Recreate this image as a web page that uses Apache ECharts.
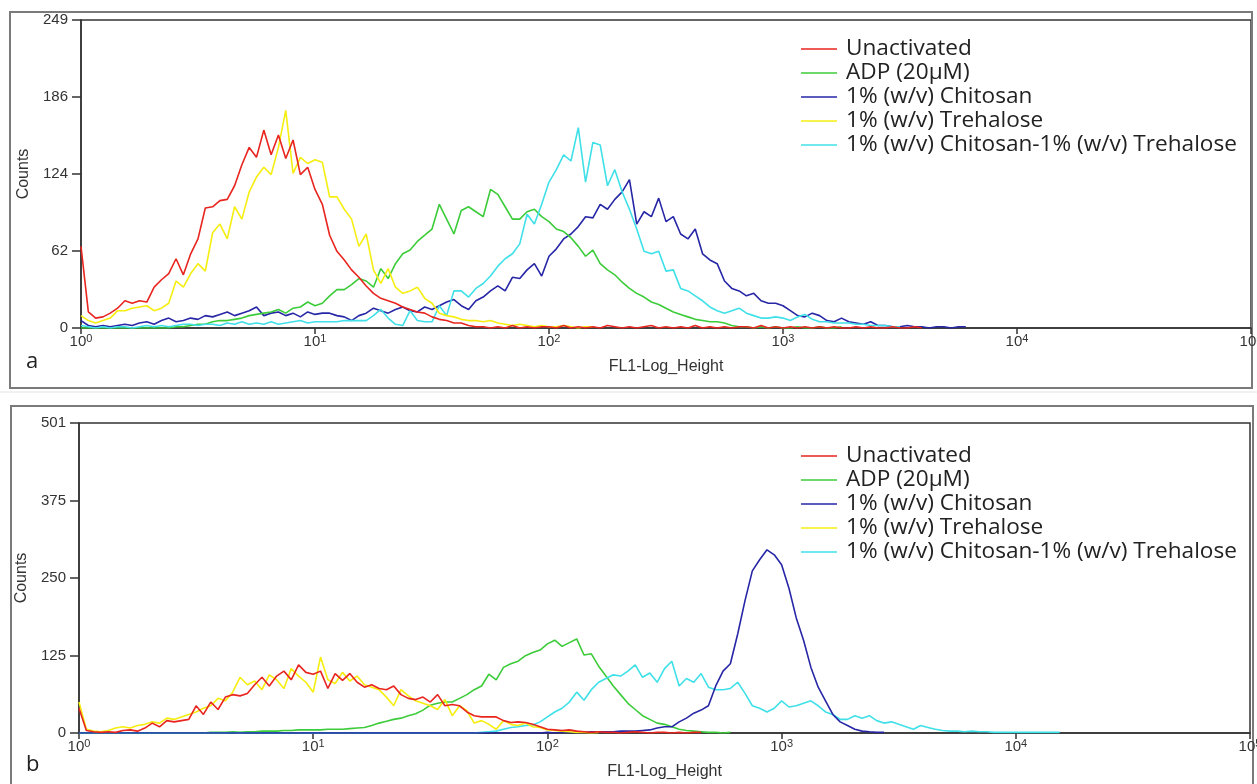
<!DOCTYPE html>
<html><head><meta charset="utf-8">
<script src="https://cdn.jsdelivr.net/npm/echarts@6/dist/echarts.min.js"></script>
<style>html,body{margin:0;padding:0;background:#fff}#c{width:1257px;height:784px}</style>
</head><body><div id="c"></div>
<script>
// channel (bin) positions on the FL1 log scale: 32 bins per decade
const CHANNEL_MANTISSA = [1.000,1.075,1.155,1.241,1.334,1.433,1.540,1.655,1.778,1.911,2.054,2.207,2.371,2.548,2.738,2.943,3.162,3.398,3.652,3.924,4.217,4.532,4.870,5.233,5.623,6.043,6.494,6.978,7.499,8.058,8.660,9.306];
const DECADES = [1,10,100,1000,10000];
const SERIES_NAMES = ['Unactivated','ADP (20\u03BCM)','1% (w/v) Chitosan','1% (w/v) Trehalose','1% (w/v) Chitosan-1% (w/v) Trehalose'];
const X_TICK_EXP = ['0','1','2','3','4','5'];
const Y_TICKS_A = ['0','62','124','186','249'];
const Y_TICKS_B = ['0','125','250','375','501'];

// Panel a counts per channel
const A_RED = [66,13,8,9,12,16,22,20,22,21,33,39,44,56,43,60,72,97,98,103,104,115,132,146,138,160,140,156,137,152,124,130,112,100,75,62,55,47,41,34,28,24,22,20,17,15,13,12,9,7,6,4,4,2,1,1,0,1,0,2,0,1,0,1,1,0,2,0,1,0,1,0,2,1,0,1,0,1,2,0,1,0,1,0,2,0,1,0,1,0,1,1,0,2,0,1,0,1,0,1,0,1,0,1,0,0,1,0,1,0,0,1,0,0,1,0];
const A_GRN = [0,0,0,0,0,0,0,0,0,0,0,0,0,1,1,2,3,3,5,6,6,7,8,10,11,12,13,15,12,16,17,21,18,20,26,31,31,35,40,38,33,48,40,52,60,63,70,75,80,100,88,76,95,98,94,90,112,108,98,88,88,94,96,90,86,80,78,73,66,58,63,52,47,43,37,32,28,25,21,19,16,13,11,9,7,6,5,5,4,2,1,1,0,1,0,1,0,0,1,0,0,1,0,0,1];
const A_BLU = [6,2,1,2,1,2,3,2,4,5,3,6,8,5,6,8,7,10,9,11,13,10,12,14,17,10,12,13,10,12,9,13,11,12,12,10,9,6,10,12,16,14,12,15,17,14,13,17,15,18,21,23,18,15,22,25,30,34,30,41,40,47,52,42,58,64,72,76,82,90,89,100,96,104,110,120,84,94,90,105,86,90,76,72,80,60,55,52,38,32,30,26,28,22,20,20,18,14,10,9,12,10,6,5,8,5,4,3,5,2,2,1,1,2,1,1,0,1,1,0,1,1];
const A_YEL = [10,6,4,6,8,14,14,16,17,18,14,16,20,38,33,44,52,46,77,84,72,98,88,110,122,130,124,146,176,125,138,133,136,134,106,106,96,88,66,76,47,36,48,33,28,30,33,24,20,12,10,9,7,6,6,5,6,4,3,2,3,2,1,2,1,1,2,1,0,1,1];
const A_CYN = [2,1,0,1,0,1,1,0,1,2,1,2,1,2,3,3,2,3,3,2,4,3,5,3,4,3,5,3,4,5,6,4,5,5,5,5,6,6,6,6,10,15,8,3,2,14,6,5,5,18,10,30,30,25,32,36,42,50,56,60,68,92,84,100,118,128,140,135,162,118,150,148,115,128,110,96,80,62,60,62,46,47,32,30,26,22,17,14,12,14,16,12,10,8,8,9,8,6,9,11,7,5,5,4,4,4,3,3,2,2,2,1,1];

// Panel b counts per channel
const B_RED = [40,4,2,1,2,1,4,5,3,8,16,10,20,18,20,22,44,30,50,38,58,62,60,64,78,90,76,92,100,86,110,98,95,100,72,96,85,96,82,74,78,72,70,76,62,56,54,58,50,62,44,46,44,34,28,26,26,26,20,17,18,17,14,10,6,5,4,5,3,2,1,2,1,1,0,1,2,1,0,1,1,0,1,0,1,1];
const B_GRN = [0,0,0,0,0,0,0,0,0,0,0,0,0,0,0,0,0,0,1,1,1,2,1,2,2,3,3,3,4,4,5,5,5,5,6,6,6,7,8,9,12,16,19,22,24,28,31,37,45,48,50,50,56,62,70,76,95,86,106,112,116,125,130,134,144,150,140,146,152,126,128,108,92,76,62,48,38,28,22,16,14,10,6,4,3,2,1,1,0,1];
const B_BLU = [0,0,0,0,0,0,0,0,0,0,0,0,0,0,0,0,0,0,0,0,0,0,0,0,0,0,0,0,0,0,0,0,0,0,0,0,0,0,0,0,0,0,0,0,0,0,0,0,0,0,0,0,0,0,0,0,0,0,0,0,0,0,0,0,1,0,1,1,1,1,2,2,2,2,3,3,3,4,5,8,10,10,18,24,32,37,44,76,100,112,160,214,262,280,296,288,272,234,186,150,106,74,52,30,18,12,6,3,2,1,1];
const B_YEL = [50,6,3,2,4,8,10,8,12,14,18,16,24,22,26,30,34,40,44,56,52,66,90,78,84,70,94,86,72,104,92,82,66,123,86,80,98,84,92,78,74,70,58,44,70,60,52,48,44,38,54,28,44,36,16,20,14,6,20,14,12,16,10,9,5,4,3,2,1,1,0,1];
const B_CYN = [0,0,0,0,0,0,0,0,0,0,0,0,0,0,0,0,0,0,0,0,0,0,0,0,0,0,0,0,0,0,0,0,0,0,0,0,0,0,0,0,0,0,0,0,0,0,0,0,0,0,0,0,0,0,0,1,2,3,6,9,10,12,13,18,26,34,40,50,66,53,70,82,88,94,92,100,110,90,97,82,104,116,76,88,82,96,74,70,70,72,82,64,44,40,34,40,52,42,44,48,52,44,34,30,22,22,28,24,28,20,16,18,14,10,6,12,9,6,4,3,3,2,3,2,2,1,1,1,1,1,1,1,1,1,1];

const COLORS = {red:'#e8251f', grn:'#3ccc3a', blu:'#2626a6', yel:'#f5ee10', cyn:'#3fe0e8'};

const CH = [];
DECADES.forEach(d => CHANNEL_MANTISSA.forEach(m => CH.push(+(m*d).toPrecision(4))));
const toData = arr => arr.map((y, i) => [CH[i], y]);

function mkSeries(name, arr, color, idx) {
  return {name, type:'line', xAxisIndex:idx, yAxisIndex:idx, data:toData(arr), showSymbol:false, symbol:'none',
    lineStyle:{color, width:1.6}, itemStyle:{color}, animation:false};
}

const FONT = 'Liberation Sans, Arial, sans-serif';
function mkX(idx){
  return {type:'log', logBase:10, min:1, max:100000, gridIndex:idx,
    name:'FL1-Log_Height', nameLocation:'middle', nameGap:31,
    nameTextStyle:{fontFamily:FONT, fontSize:16, color:'#333'},
    axisLine:{lineStyle:{color:'#333', width:1.5}},
    axisTick:{show:true, length:6, lineStyle:{color:'#333', width:1.5}},
    minorTick:{show:false}, splitLine:{show:false},
    axisLabel:{margin:5, color:'#333', fontFamily:FONT, fontSize:15,
      formatter:(v,i)=>'10{s|'+X_TICK_EXP[i]+'}',
      rich:{s:{fontSize:11, verticalAlign:'top', padding:[0,0,7,0], fontFamily:FONT, color:'#333'}}}
  };
}
function mkY(idx, max, ticks){
  return {type:'value', min:0, max, interval:max/4, gridIndex:idx,
    name:'Counts', nameLocation:'middle', nameGap:41,
    nameTextStyle:{fontFamily:FONT, fontSize:16, color:'#333'},
    axisLine:{show:true, lineStyle:{color:'#333', width:1.5}},
    axisTick:{show:true, length:9, lineStyle:{color:'#333', width:1.5}},
    splitLine:{show:false},
    axisLabel:{margin:13, color:'#333', fontFamily:FONT, fontSize:15, formatter:(v,i)=>ticks[i]}
  };
}
const legendBase = {orient:'vertical', left:796, itemWidth:36, itemHeight:1.5, icon:'rect', itemGap:0,
  textStyle:{fontFamily:'Open Sans, Noto Sans, sans-serif', fontSize:22.6, lineHeight:24, color:'#222', padding:[0,0,0,4]},
  data:SERIES_NAMES, selectedMode:false};

const chart = echarts.init(document.getElementById('c'), null, {renderer:'canvas'});
chart.setOption({
  backgroundColor:'#fff',
  animation:false,
  grid:[
    {left:81, top:20, width:1170, height:308, show:true, borderColor:'#333', borderWidth:1.5, backgroundColor:'transparent', outerBoundsMode:'none', containLabel:false},
    {left:79, top:423, width:1171, height:310, show:true, borderColor:'#333', borderWidth:1.5, backgroundColor:'transparent', outerBoundsMode:'none', containLabel:false}
  ],
  xAxis:[mkX(0), mkX(1)],
  yAxis:[mkY(0,249,Y_TICKS_A), mkY(1,501,Y_TICKS_B)],
  legend:[Object.assign({top:32}, legendBase), Object.assign({top:439}, legendBase)],
  graphic:[
    {type:'rect', shape:{x:10, y:12, width:1242, height:376}, style:{fill:'none', stroke:'#7a7a7a', lineWidth:2}, silent:true},
    {type:'rect', shape:{x:11, y:406, width:1242, height:400}, style:{fill:'none', stroke:'#7a7a7a', lineWidth:2}, silent:true},
    {type:'line', shape:{x1:0, y1:392, x2:1257, y2:392}, style:{stroke:'#e2e2e2', lineWidth:1}, silent:true},
    {type:'text', left:26, top:351, style:{text:'a', fontFamily:'Open Sans, sans-serif', fontSize:22, fill:'#222'}},
    {type:'text', left:26, top:754, style:{text:'b', fontFamily:'Open Sans, sans-serif', fontSize:22, fill:'#222'}}
  ],
  series:[
    mkSeries(SERIES_NAMES[2], A_BLU, COLORS.blu, 0),
    mkSeries(SERIES_NAMES[1], A_GRN, COLORS.grn, 0),
    mkSeries(SERIES_NAMES[4], A_CYN, COLORS.cyn, 0),
    mkSeries(SERIES_NAMES[3], A_YEL, COLORS.yel, 0),
    mkSeries(SERIES_NAMES[0], A_RED, COLORS.red, 0),
    mkSeries(SERIES_NAMES[1], B_GRN, COLORS.grn, 1),
    mkSeries(SERIES_NAMES[4], B_CYN, COLORS.cyn, 1),
    mkSeries(SERIES_NAMES[2], B_BLU, COLORS.blu, 1),
    mkSeries(SERIES_NAMES[3], B_YEL, COLORS.yel, 1),
    mkSeries(SERIES_NAMES[0], B_RED, COLORS.red, 1)
  ]
});
</script></body></html>
